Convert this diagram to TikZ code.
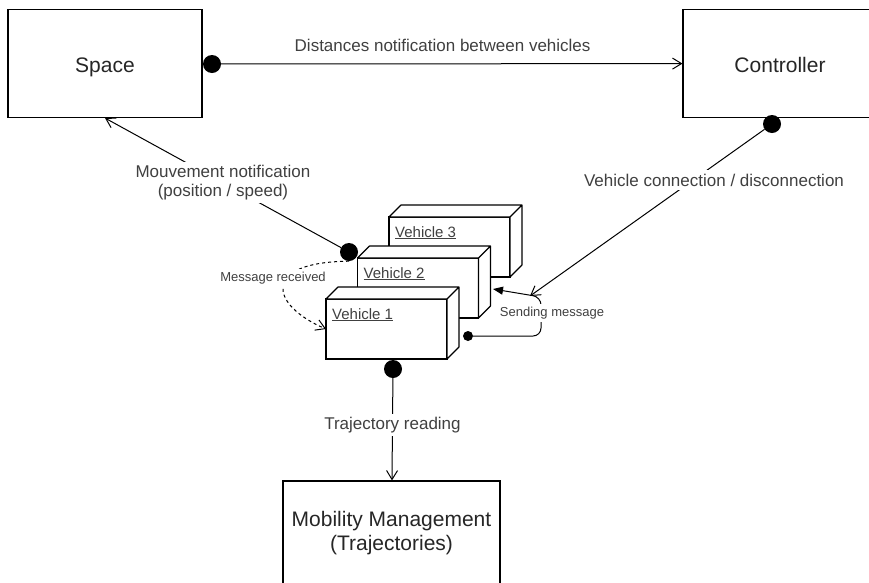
\documentclass[tikz,border=0pt]{standalone}
\usepackage{fontspec}
\setmainfont{Liberation Sans}
\usetikzlibrary{arrows.meta}
\begin{document}
\begin{tikzpicture}[x=1pt, y=-1pt,
    box/.style={draw, line width=1.1pt, fill=white, minimum width=194pt, minimum height=108pt, font=\fontsize{21}{24}\selectfont, text=black!85},
    oneline/.style={text height=20pt, text depth=2pt},
    vfront/.style={draw, line width=1.1pt, fill=white, minimum width=121pt, minimum height=60pt, inner sep=0pt, outer sep=0pt},
    vface/.style={draw, line width=1.1pt, fill=white, line join=round},
    vname/.style={anchor=base west, inner sep=0pt, xshift=6pt, yshift=-20pt, font=\fontsize{15}{17}\selectfont, text=black!75},
    dot/.style={circle, fill=black, inner sep=0pt, minimum size=18pt},
    smalldot/.style={circle, fill=black, inner sep=0pt, minimum size=10pt},
    conn/.style={draw, line width=1pt},
    opentip/.style={-{Straight Barb[length=9pt, width=11pt]}},
    lbl/.style={font=\fontsize{17}{19}\selectfont, text=black!75, inner sep=3pt},
    smalllbl/.style={font=\fontsize{13}{15}\selectfont, text=black!75, inner sep=3pt}]
    \path [use as bounding box, fill=white] (0,0) rectangle (869,582);
    \node [box, oneline] (space) at (105,63.5) {Space};
    \node [box, oneline] (ctrl) at (780,63.5) {Controller};
    \node [box, minimum width=217pt, minimum height=104pt, align=center] (mob) at (391.5,533) {Mobility Management\\(Trajectories)};
    \foreach \i/\cx/\cy in {3/449.5/247, 2/418/288, 1/386.5/329} {
        \node [vfront] (v\i) at (\cx,\cy) {};
        \draw [vface] (v\i.north west) -- ++(12,-12) -- ([shift={(12,-12)}]v\i.north east) -- ([shift={(12,-12)}]v\i.south east) -- (v\i.south east) -- (v\i.north east) -- cycle
            (v\i.north east) -- ++(12,-12);
        \node [vname] (v\i name) at (v\i.north west) {\underline{Vehicle \i}};
    }
    \node [dot] (sdot) at (212,64) {};
    \node [dot] (cdot) at (772,124) {};
    \node [dot] (v2dot) at (349,252) {};
    \node [dot] (v1dot) at (393,369) {};
    \node [smalldot] (sndot) at (468,336) {};
    \coordinate (cin) at (530,296);
    \coordinate (sendin) at (493,289);
    \draw [conn, opentip] (sdot) -- node [lbl, above=9pt, pos=0.48] (ldist) {Distances notification between vehicles} (ctrl);
    \draw [conn, opentip] (v2dot) -- node [lbl, fill=white, align=center, pos=0.5] (lmove) {Mouvement notification\\(position / speed)} (space.south);
    \draw [conn, opentip] (cdot) -- (cin);
    \node [lbl, fill=white, inner sep=4pt] (lconn) at (714,180) {Vehicle connection / disconnection};
    \draw [conn, opentip] (v1dot) -- node [lbl, fill=white, pos=0.46] (ltraj) {Trajectory reading} (mob);
    \draw [conn, rounded corners=8pt, -{Triangle[length=10pt, width=8pt]}] (sndot) -- (541,336) -- (541,297) -- (sendin);
    \node [smalllbl, fill=white] (lsend) at (552,313) {Sending message};
    \draw [conn, dash pattern=on 3pt off 3pt, opentip] (v2dot.south) .. controls (260,262) and (270,305) .. (v1.west);
    \node [smalllbl, fill=white] (lrecv) at (273,278) {Message received};
\end{tikzpicture}
\end{document}
